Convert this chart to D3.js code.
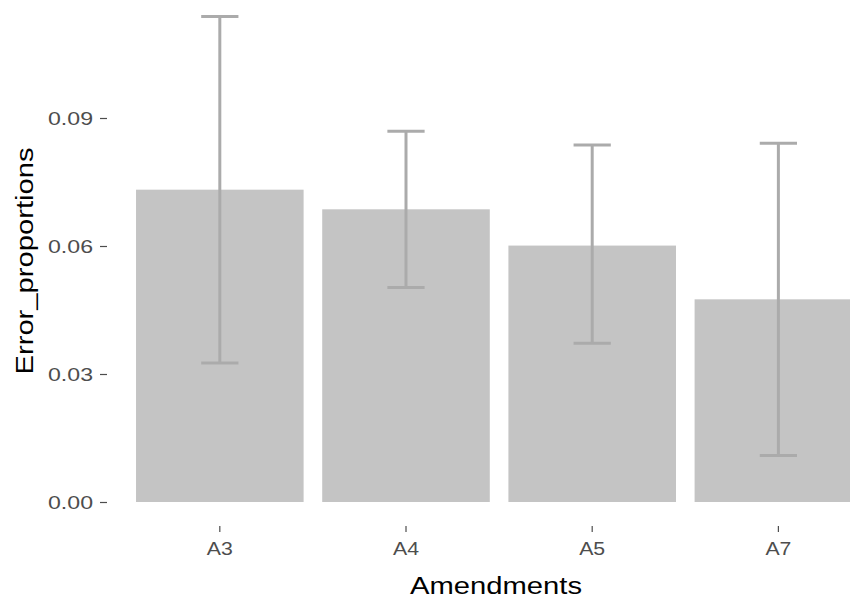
<!DOCTYPE html>
<html>
<head>
<meta charset="utf-8">
<script src="https://cdn.jsdelivr.net/npm/d3@7"></script>
<style>
  body { margin: 0; background: #fff; }
  text { font-family: "Liberation Sans", Arial, sans-serif; }
</style>
</head>
<body>
<div class="chart"></div>
<script>
var categories = ['A3', 'A4', 'A5', 'A7'];
var proportions = [0.0732, 0.0686, 0.0601, 0.0475];
var lower = [0.0326, 0.0503, 0.0372, 0.0109];
var upper = [0.1138, 0.0869, 0.0837, 0.0841];
var yTicks = [0, 0.03, 0.06, 0.09];

var width = 850, height = 601;

var svg = d3.select('.chart')
  .append('svg')
  .attr('width', width)
  .attr('height', height);

var data = categories.map((c, i) => ({
  cat: c, value: proportions[i], lo: lower[i], hi: upper[i]
}));

// discrete axis with ggplot-like expansion (runs past the right edge)
var xScale = d3.scaleBand()
  .domain(categories)
  .range([108.1, 890.1])
  .paddingInner(0.1)
  .paddingOuter(0.15);

var yScale = d3.scaleLinear()
  .domain([0, 0.09])
  .range([502, 118]);

var bw = xScale.bandwidth();
var step = xScale.step();

svg.append('g')
  .selectAll('rect')
  .data(data)
  .enter()
  .append('rect')
  .attr('x', d => xScale(d.cat))
  .attr('width', bw)
  .attr('y', d => yScale(d.value))
  .attr('height', d => yScale(0) - yScale(d.value))
  .attr('fill', '#C4C4C4');

var err = svg.append('g')
  .attr('stroke', '#ABABAB')
  .attr('stroke-width', 3)
  .attr('fill', 'none');

var cx = d => xScale(d.cat) + bw / 2;
var capW = step * 0.2;

err.selectAll('.v').data(data).enter().append('line')
  .attr('x1', cx).attr('x2', cx)
  .attr('y1', d => yScale(d.lo)).attr('y2', d => yScale(d.hi));
err.selectAll('.top').data(data).enter().append('line')
  .attr('x1', d => cx(d) - capW / 2).attr('x2', d => cx(d) + capW / 2)
  .attr('y1', d => yScale(d.hi)).attr('y2', d => yScale(d.hi));
err.selectAll('.bot').data(data).enter().append('line')
  .attr('x1', d => cx(d) - capW / 2).attr('x2', d => cx(d) + capW / 2)
  .attr('y1', d => yScale(d.lo)).attr('y2', d => yScale(d.lo));

// y axis
var yAxis = g => g
  .attr('transform', 'translate(107,0)')
  .call(d3.axisLeft(yScale).tickValues(yTicks).tickFormat(d3.format('.2f'))
    .tickSize(7).tickPadding(7))
  .call(g => g.select('.domain').remove())
  .call(g => g.selectAll('line').attr('stroke', '#4D4D4D').attr('stroke-width', 1.2))
  .call(g => g.selectAll('text')
    .attr('fill', '#4D4D4D')
    .attr('font-size', 19)
    .attr('textLength', 45)
    .attr('lengthAdjust', 'spacingAndGlyphs'));

svg.append('g').attr('font-family', null).call(yAxis);

// x axis
var xAxis = g => g
  .attr('transform', 'translate(0,526)')
  .call(d3.axisBottom(xScale).tickSize(6).tickPadding(10))
  .call(g => g.select('.domain').remove())
  .call(g => g.selectAll('line').attr('stroke', '#4D4D4D').attr('stroke-width', 1.2))
  .call(g => g.selectAll('text')
    .attr('fill', '#4D4D4D')
    .attr('font-size', 19)
    .attr('textLength', 26)
    .attr('lengthAdjust', 'spacingAndGlyphs'));

svg.append('g').attr('font-family', null).call(xAxis);

// titles
svg.append('text')
  .attr('x', 496)
  .attr('y', 594)
  .attr('text-anchor', 'middle')
  .attr('font-size', 23)
  .attr('textLength', 172)
  .attr('lengthAdjust', 'spacingAndGlyphs')
  .text('Amendments');

svg.append('text')
  .attr('transform', 'translate(33,261) rotate(-90)')
  .attr('text-anchor', 'middle')
  .attr('font-size', 23)
  .attr('textLength', 227)
  .attr('lengthAdjust', 'spacingAndGlyphs')
  .text('Error_proportions');
</script>
</body>
</html>
